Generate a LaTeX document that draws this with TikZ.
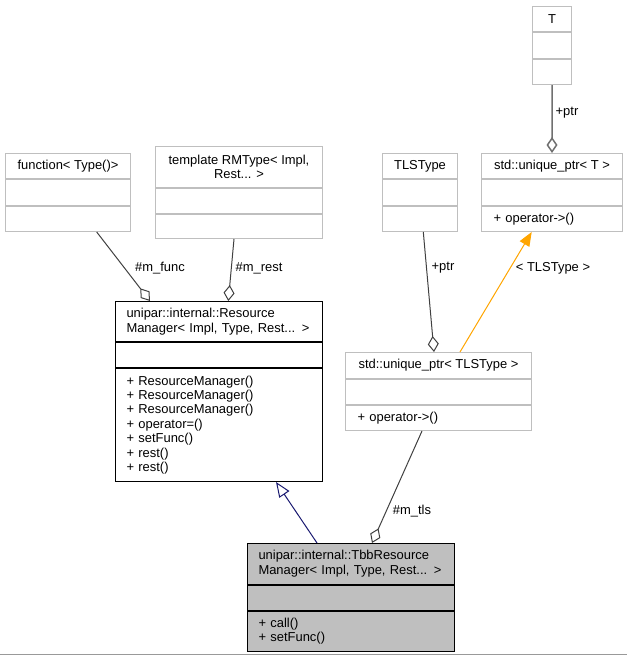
\documentclass[tikz,border=0pt]{standalone}
\usepackage{fontspec}
\setmainfont{Liberation Sans}
\usetikzlibrary{arrows.meta}
\definecolor{boxgray}{RGB}{191,191,191}
\definecolor{edgegray}{RGB}{64,64,64}
\definecolor{ptrgray}{RGB}{112,112,112}
\definecolor{inhblue}{RGB}{25,25,112}
\definecolor{tmplorange}{RGB}{255,165,0}

\begin{document}
\begin{tikzpicture}[x=1bp, y=-1bp,
    every node/.style={font=\fontsize{13}{14.5}\selectfont},
    grybox/.style={draw=boxgray, line width=1bp, anchor=north west, inner sep=0pt, align=center},
    grylist/.style={draw=boxgray, line width=1bp, anchor=north west, inner xsep=12bp, inner ysep=0pt, align=left},
    clsbox/.style={draw=black, line width=1bp, anchor=north west, inner xsep=11bp, inner ysep=0pt, align=left},
    tbbbox/.style={clsbox, fill=boxgray},
    member/.style={draw=edgegray, line width=1bp, -{Diamond[open, length=16bp, width=11bp]}},
    ptrlink/.style={draw=ptrgray, line width=1.5bp, -{Diamond[open, length=16bp, width=11bp]}},
    inherit/.style={draw=inhblue, line width=1bp, -{Triangle[open, length=15bp, width=12bp]}},
    tmpl/.style={draw=tmplorange, line width=1bp, -{Triangle[length=14bp, width=11bp]}}]
    \useasboundingbox (0,0) rectangle (627,655);
    % classes
    \node[grybox, minimum width=125bp, minimum height=25bp] (fnT) at (5,153) {function< Type()>};
    \node[grybox, minimum width=125bp, minimum height=26bp] (fnA) at (fnT.south west) {};
    \node[grybox, minimum width=125bp, minimum height=25bp] (fnM) at (fnA.south west) {};
    \node[grybox, minimum width=167bp, minimum height=41bp] (tpT) at (155,146) {template RMType< Impl,\\Rest... >};
    \node[grybox, minimum width=167bp, minimum height=25bp] (tpA) at (tpT.south west) {};
    \node[grybox, minimum width=167bp, minimum height=24bp] (tpM) at (tpA.south west) {};
    \node[grybox, minimum width=39bp, minimum height=25bp] (tT) at (532,6) {T};
    \node[grybox, minimum width=39bp, minimum height=26bp] (tA) at (tT.south west) {};
    \node[grybox, minimum width=39bp, minimum height=25bp] (tM) at (tA.south west) {};
    \node[grybox, minimum width=75bp, minimum height=25bp] (tlsT) at (382,153) {TLSType};
    \node[grybox, minimum width=75bp, minimum height=26bp] (tlsA) at (tlsT.south west) {};
    \node[grybox, minimum width=75bp, minimum height=25bp] (tlsM) at (tlsA.south west) {};
    \node[grybox, minimum width=141bp, minimum height=25bp] (upTT) at (481,153) {std::unique\_ptr< T >};
    \node[grybox, minimum width=141bp, minimum height=26bp] (upTA) at (upTT.south west) {};
    \node[grylist, text width=117bp, minimum height=25bp] (upTM) at (upTA.south west) {+ operator->()};
    \node[grybox, minimum width=186bp, minimum height=26bp] (upLT) at (345,352) {std::unique\_ptr< TLSType >};
    \node[grybox, minimum width=186bp, minimum height=25bp] (upLA) at (upLT.south west) {};
    \node[grylist, text width=162bp, minimum height=25bp] (upLM) at (upLA.south west) {+ operator->()};
    \node[clsbox, text width=185bp, minimum height=40bp] (rmT) at (115,301) {unipar::internal::Resource\\Manager< Impl, Type, Rest... >};
    \node[clsbox, text width=185bp, minimum height=25bp] (rmA) at (rmT.south west) {};
    \node[clsbox, text width=185bp, minimum height=113bp] (rmM) at (rmA.south west)
        {+ ResourceManager()\\+ ResourceManager()\\+ ResourceManager()\\+ operator=()\\+ setFunc()\\+ rest()\\+ rest()};
    \node[tbbbox, text width=185bp, minimum height=40.5bp] (tbT) at (247,543) {unipar::internal::TbbResource\\Manager< Impl, Type, Rest... >};
    \node[tbbbox, text width=185bp, minimum height=25bp] (tbA) at (tbT.south west) {};
    \node[tbbbox, text width=185bp, minimum height=40bp] (tbM) at (tbA.south west) {+ call()\\+ setFunc()};
    % relations
    \draw[member] ([xshift=91.7bp]fnM.south west) -- ([xshift=35bp]rmT.north west);
    \draw[member] ([xshift=79bp]tpM.south west) -- ([xshift=113.3bp]rmT.north west);
    \draw[ptrlink] (tM.south) -- (upTT.north);
    \draw[member] ([xshift=41.3bp]tlsM.south west) -- ([xshift=89bp]upLT.north west);
    \draw[tmpl] ([xshift=115bp]upLT.north west) -- ([xshift=50.7bp]upTM.south west);
    \draw[inherit] ([xshift=70bp]tbT.north west) -- ([xshift=161bp]rmM.south west);
    \draw[member] ([xshift=77bp]upLM.south west) -- ([xshift=125bp]tbT.north west);
    % labels
    \node (lbFunc) at (160,268) {\#m\_func};
    \node (lbRest) at (259,268) {\#m\_rest};
    \node (lbPtrT) at (567,113) {+ptr};
    \node (lbPtrL) at (443,268) {+ptr};
    \node (lbTmpl) at (553,268) {< TLSType >};
    \node (lbTls) at (412,511) {\#m\_tls};
    \draw[boxgray!80!black, line width=1bp] (0,654) -- (627,654);
\end{tikzpicture}
\end{document}
